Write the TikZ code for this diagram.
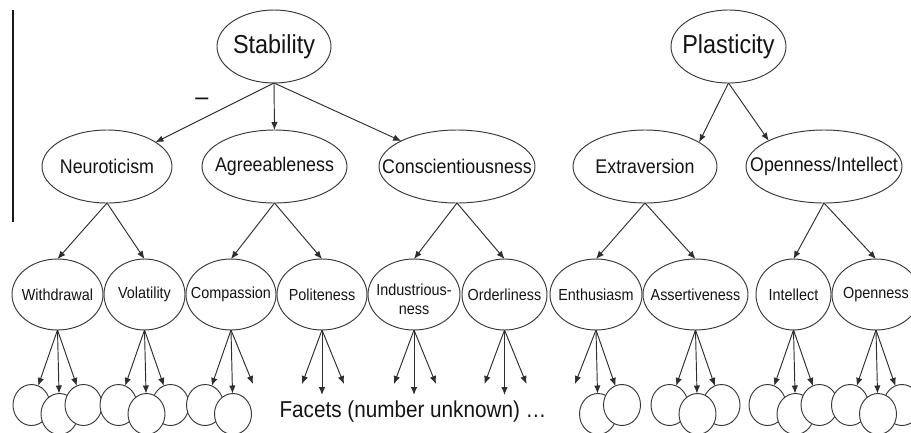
\documentclass[tikz,border=0pt]{standalone}
\usepackage{fontspec}
\newfontfamily\nf[FakeStretch=0.9]{Liberation Sans}
\usetikzlibrary{arrows.meta,shapes.geometric,calc}
\newcommand{\zw}[1]{\makebox[0pt][c]{#1}}
\begin{document}
\begin{tikzpicture}[x=1pt,y=-1pt,
  every node/.style={inner sep=0pt,outer sep=0pt},
  ovl/.style={ellipse,draw=black!78,line width=0.95pt,fill=white,text=black!92},
  topbox/.style={ovl,minimum width=#1,minimum height=73pt,font=\nf\fontsize{26}{28}\selectfont},
  midbox/.style={ovl,minimum width=#1,minimum height=73pt,font=\nf\fontsize{19.8}{21}\selectfont},
  lowbox/.style={ovl,minimum width=#1,minimum height=71pt,font=\nf\fontsize{16}{19}\selectfont},
  facet/.style={ovl,minimum width=37pt,minimum height=41pt},
  arr/.style={-{Latex[length=8pt,width=6.5pt]},draw=black!82,line width=0.95pt},
  lbl/.style={text=black!92}
]
\useasboundingbox (0,0) rectangle (911,432);
\clip (0,0) rectangle (911,432);

% left rule
\coordinate (rt) at (13,10);
\coordinate (rb) at (13,222);
\draw[line width=1.3pt,black!90] (rt) -- (rb);

% top level
\node[topbox=114pt] (stab) at (274,46.5) {\zw{Stability}};
\node[topbox=115pt] (plas) at (728.5,46.5) {\zw{Plasticity}};

% big five
\node[midbox=130pt] (neur) at (107,166.5) {\zw{Neuroticism}};
\node[midbox=145pt] (agre) at (274.5,166.5) {\zw{Agreeableness}};
\node[midbox=156pt] (cons) at (457,166.5) {\zw{Conscientiousness}};
\node[midbox=144pt] (extr) at (645,166.5) {\zw{Extraversion}};
\node[midbox=156pt] (open) at (824,166.5) {\zw{Openness/Intellect}};

\node[lbl,font=\nf\fontsize{26}{28}\selectfont] (minus) at (202,102) {–};

\draw[arr] (stab.south) -- (neur);
\draw[arr] (stab.south) -- (agre.north);
\draw[arr] (stab.south) -- (cons);
\draw[arr] (plas.south) -- (extr.24);
\draw[arr] (plas.south) -- (open.155);

% aspects
\node[lowbox=91pt]  (withd) at (57.5,294.5) {\zw{Withdrawal}};
\node[lowbox=81pt]  (volat) at (144.5,294.5) {\zw{Volatility}};
\node[lowbox=90pt]  (compa) at (231,294.5) {\zw{Compassion}};
\node[lowbox=90pt]  (polit) at (322,294.5) {\zw{Politeness}};
\node[lowbox=92pt]  (indus) at (414,294.5) {\zw{\raisebox{-11.5pt}[0pt][0pt]{\begin{tabular}{@{}c@{}}Industrious-\\ness\end{tabular}}}};
\node[lowbox=85pt]  (order) at (504.5,294.5) {\zw{Orderliness}};
\node[lowbox=92pt]  (enthu) at (596,294.5) {\zw{Enthusiasm}};
\node[lowbox=105pt] (asser) at (695.5,294.5) {\zw{Assertiveness}};
\node[lowbox=75pt]  (intel) at (793.5,294.5) {\zw{Intellect}};
\node[lowbox=88pt]  (openn) at (876,294.5) {\zw{Openness}};

\foreach \p/\c in {neur/withd,neur/volat,agre/compa,agre/polit,cons/indus,cons/order,extr/enthu,extr/asser,open/intel,open/openn}
  \draw[arr] (\p.south) -- (\c.north);

% facets: circles
\node[facet] (withd-l) at ($(withd.south)+(-26,75)$) {};
\node[facet] (withd-m) at ($(withd.south)+(2,84)$) {};
\node[facet] (withd-r) at ($(withd.south)+(26,75)$) {};
\node[facet] (volat-l) at ($(volat.south)+(-26,75)$) {};
\node[facet] (volat-r) at ($(volat.south)+(26,75)$) {};
\node[facet] (volat-m) at ($(volat.south)+(2,84)$) {};
\node[facet] (compa-l) at ($(compa.south)+(-26,75)$) {};
\node[facet] (compa-m) at ($(compa.south)+(2,84)$) {};
\node[facet] (enthu-m) at ($(enthu.south)+(2,84)$) {};
\node[facet] (enthu-r) at ($(enthu.south)+(26,75)$) {};
\node[facet] (asser-l) at ($(asser.south)+(-26,75)$) {};
\node[facet] (asser-r) at ($(asser.south)+(26,75)$) {};
\node[facet] (asser-m) at ($(asser.south)+(2,84)$) {};
\node[facet] (intel-l) at ($(intel.south)+(-26,75)$) {};
\node[facet] (intel-m) at ($(intel.south)+(2,84)$) {};
\node[facet] (intel-r) at ($(intel.south)+(26,75)$) {};
\node[facet] (openn-l) at ($(openn.south)+(-26,75)$) {};
\node[facet] (openn-r) at ($(openn.south)+(26,75)$) {};
\node[facet] (openn-m) at ($(openn.south)+(2,84)$) {};

% facets: free arrow ends
\coordinate (compa-r) at ($(compa.south)+(22,54)$);
\coordinate (enthu-l) at ($(enthu.south)+(-21,54)$);
\foreach \a in {polit,indus,order}{
  \coordinate (\a-l) at ($(\a.south)+(-20,54)$);
  \coordinate (\a-m) at ($(\a.south)+(0,65)$);
  \coordinate (\a-r) at ($(\a.south)+(22,54)$);
}

\foreach \a in {withd,volat,compa,polit,indus,order,enthu,asser,intel,openn}{
  \draw[arr] (\a.south) -- (\a-l);
  \draw[arr] (\a.south) -- (\a-m);
  \draw[arr] (\a.south) -- (\a-r);
}

\node[lbl,font=\nf\fontsize{23}{25}\selectfont,anchor=base] (facets) at (413,417) {Facets (number unknown) …};
\end{tikzpicture}
\end{document}
